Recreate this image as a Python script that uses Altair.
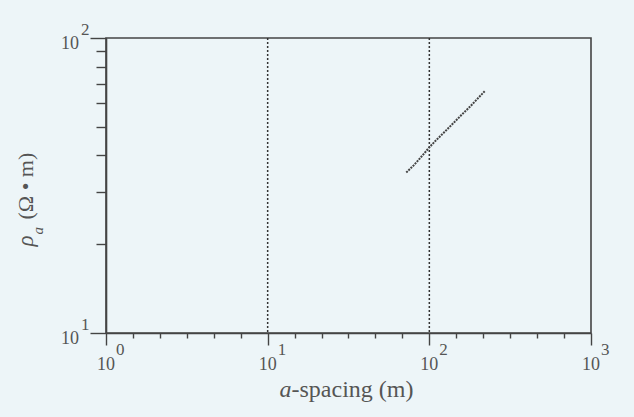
import altair as alt
import pandas as pd

# ---- data ----
spacing_m = [72, 80, 90, 100, 110, 125, 140, 160, 180, 200, 220]
rho_a = [35.0, 37.0, 39.8, 42.6, 45.0, 48.2, 51.3, 55.2, 58.8, 62.5, 66.0]

grid_x = [10, 100]

x_major = [1, 10, 100, 1000]
x_minor = [1.468, 2.154, 3.162, 4.642, 6.813,
           14.68, 21.54, 31.62, 46.42, 68.13,
           146.8, 215.4, 316.2, 464.2, 681.3]
x_exp = ["0", "1", "2", "3"]

y_major = [10, 100]
y_minor = [20, 30, 40, 50, 60, 70, 80, 90]
y_exp = ["1", "2"]

W, H = 485, 295
FONT = "Liberation Serif"
AX = "#444444"
TXT = "#555555"
BG = "#edf5f8"

line_df = pd.DataFrame({"a": spacing_m, "rho": rho_a})
grid_df = pd.DataFrame({"a": grid_x})
xlab_df = pd.DataFrame({"v": x_major, "base": ["10"] * 4, "exp": x_exp})
ylab_df = pd.DataFrame({"v": y_major, "base": ["10"] * 2, "exp": y_exp})

major_test = "abs(log(datum.value)/LN10 - round(log(datum.value)/LN10)) < 0.001"

xscale = alt.Scale(type="log", domain=[1, 1000])
yscale = alt.Scale(type="log", domain=[10, 100])

xaxis = alt.Axis(values=sorted(x_major + x_minor), labels=False, grid=False, title=None,
                 domainColor=AX, domainWidth=1.6, tickColor=AX, tickWidth=1.4,
                 tickSize={"condition": {"test": major_test, "value": 12}, "value": 5})
yaxis = alt.Axis(values=sorted(y_major + y_minor), labels=False, grid=False, title=None,
                 domainColor=AX, domainWidth=1.6, tickColor=AX, tickWidth=1.4,
                 tickSize={"condition": {"test": major_test, "value": 16}, "value": 10})

line = alt.Chart(line_df).mark_line(color="#444444", strokeWidth=2, strokeDash=[2, 1]).encode(
    x=alt.X("a:Q", scale=xscale, axis=xaxis),
    y=alt.Y("rho:Q", scale=yscale, axis=yaxis),
)

grid = alt.Chart(grid_df).mark_rule(color="#333333", strokeWidth=1.5, strokeDash=[2, 2]).encode(
    x=alt.X("a:Q", scale=xscale)
)

# x tick labels
xl_base = alt.Chart(xlab_df).mark_text(font=FONT, fontSize=18, color=TXT, align="center",
                                        baseline="middle", dx=0, dy=32).encode(
    x=alt.X("v:Q", scale=xscale), y=alt.datum(10), text="base:N")
xl_exp = alt.Chart(xlab_df).mark_text(font=FONT, fontSize=17, color=TXT, align="left",
                                       baseline="middle", dx=10, dy=17).encode(
    x=alt.X("v:Q", scale=xscale), y=alt.datum(10), text="exp:N")

# y tick labels
yl_base = alt.Chart(ylab_df).mark_text(font=FONT, fontSize=18, color=TXT, align="right",
                                        baseline="middle", dx=-27, dy=6).encode(
    y=alt.Y("v:Q", scale=yscale), x=alt.datum(1), text="base:N")
yl_exp = alt.Chart(ylab_df).mark_text(font=FONT, fontSize=17, color=TXT, align="left",
                                       baseline="middle", dx=-25, dy=-8).encode(
    y=alt.Y("v:Q", scale=yscale), x=alt.datum(1), text="exp:N")

# x title: italic "a" + "-spacing (m)"
xt_a = alt.Chart(xlab_df.head(1)).mark_text(font=FONT, fontSize=24, fontStyle="italic", color=TXT,
                                             align="left", baseline="alphabetic", dx=-69, dy=64).encode(
    x=alt.datum(31.62), y=alt.datum(10), text=alt.value("a"))
xt_rest = alt.Chart(xlab_df.head(1)).mark_text(font=FONT, fontSize=24, color=TXT,
                                                align="left", baseline="alphabetic", dx=-57, dy=64).encode(
    x=alt.datum(31.62), y=alt.datum(10), text=alt.value("-spacing (m)"))

# y title: italic rho with subscript a, then (Ω • m)
yt_rho = alt.Chart(xlab_df.head(1)).mark_text(font=FONT, fontSize=23, fontStyle="italic", color=TXT,
                                               align="left", baseline="alphabetic", angle=270,
                                               dx=-61, dy=-73).encode(
    x=alt.datum(1), y=alt.datum(31.62), text=alt.value("ρ"))
yt_sub = alt.Chart(xlab_df.head(1)).mark_text(font=FONT, fontSize=15, fontStyle="italic", color=TXT,
                                               align="left", baseline="alphabetic", angle=270,
                                               dx=-49, dy=-63).encode(
    x=alt.datum(1), y=alt.datum(31.62), text=alt.value("a"))
yt_rest = alt.Chart(xlab_df.head(1)).mark_text(font=FONT, fontSize=22, color=TXT,
                                                align="left", baseline="alphabetic", angle=270,
                                                dx=-34, dy=-73).encode(
    x=alt.datum(1), y=alt.datum(31.62), text=alt.value("(Ω • m)"))

chart = alt.layer(grid, line, xl_base, xl_exp, yl_base, yl_exp,
                  xt_a, xt_rest, yt_rho, yt_sub, yt_rest).properties(
    width=W, height=H,
    autosize=alt.AutoSizeParams(type="none"),
    padding={"left": 106, "top": 38, "right": 43, "bottom": 84},
    background=BG,
).configure_view(stroke=AX, strokeWidth=1.6, fill=BG)

chart.save("out.html", embed_options={"renderer": "svg", "actions": False})
